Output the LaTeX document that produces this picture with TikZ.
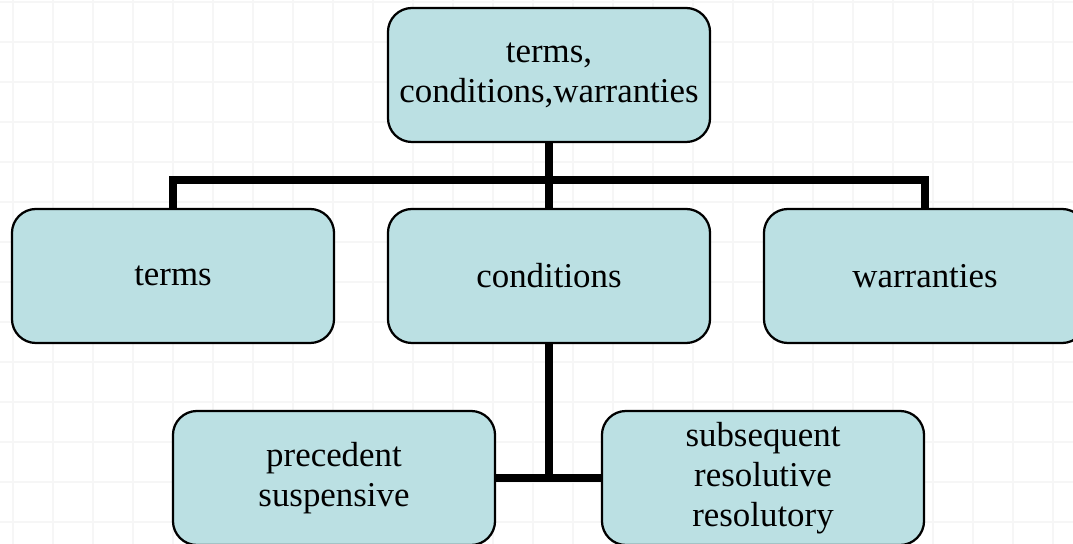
\documentclass[tikz,border=0pt]{standalone}
\usepackage{fontspec}
\setmainfont{Liberation Serif}
\definecolor{boxfill}{HTML}{BBE0E3}
\definecolor{gridline}{HTML}{F6F6F6}
\begin{document}
\begin{tikzpicture}[x=0.025cm,y=-0.025cm,
    box/.style={draw=black,line width=1.6pt,fill=boxfill,rounded corners=0.6cm,
      minimum width=8.05cm,minimum height=3.35cm,align=center,
      font=\fontsize{24.8}{28.5}\selectfont},
    link/.style={line width=5.7pt}]
      \clip (0,0) rectangle (1073,544);
      \fill[white] (0,0) rectangle (1073,544);
      \foreach \gx in {13,53,...,1073}
        \draw[gridline,line width=1.4pt] (\gx,0) -- (\gx,544);
      \foreach \gy in {2,42,...,544}
        \draw[gridline,line width=1.4pt] (0,\gy) -- (1073,\gy);
      \draw
        (549,75) node[box] (top){terms,\\conditions,warranties}
        (173,276) node[box] (terms){terms}
        (549,276) node[box] (cond){conditions}
        (925,276) node[box] (warr){warranties}
        (334,478) node[box] (prec){precedent\\suspensive}
        (763,478) node[box] (subs){subsequent\\resolutive\\resolutory};
      \coordinate (bus) at (549,180);
      \begin{scope}[link]
        \draw (top.south) -- (bus);
        \draw (terms.north) |- (bus) -| (warr.north);
        \draw (bus) -- (cond.north);
        \draw (cond.south) -- (cond.south |- prec.east);
        \draw (prec.east) -- (subs.west);
      \end{scope}
    \end{tikzpicture}
\end{document}
